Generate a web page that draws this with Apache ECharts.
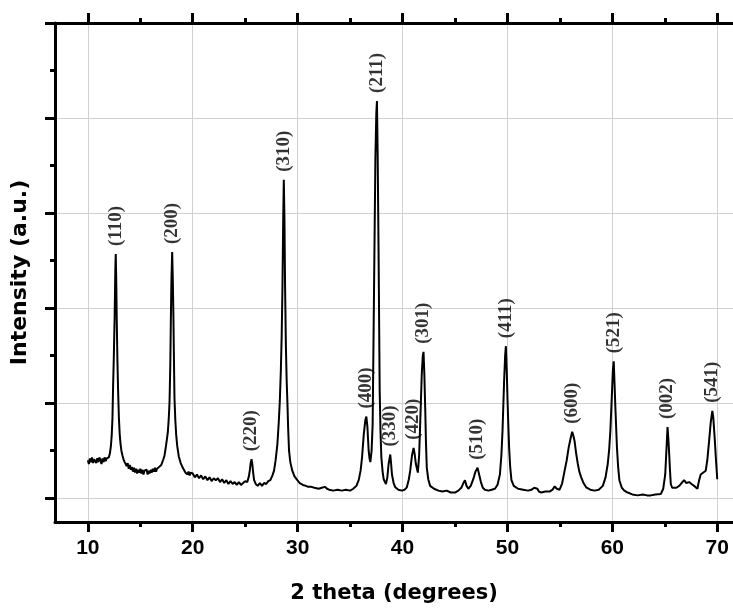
<!DOCTYPE html>
<html>
<head>
<meta charset="utf-8">
<script src="https://cdn.jsdelivr.net/npm/echarts@6/dist/echarts.min.js"></script>
<style>html,body{margin:0;padding:0;background:#fff}#chart{width:733px;height:609px}</style>
</head>
<body>
<div id="chart"></div>
<script>
// ---- data ----
const twoTheta = [
10.0,10.1,10.2,10.3,10.4,10.5,10.6,10.7,10.8,10.9,11.0,11.1,11.2,11.3,11.4,11.5,11.6,11.7,11.8,11.9,
12.0,12.1,12.2,12.28,12.35,12.41,12.48,12.56,12.62,12.66,12.70,12.76,12.82,12.88,12.96,13.04,13.12,13.2,13.3,13.4,13.51,
13.6,13.7,13.8,13.9,14.0,14.1,14.2,14.3,14.4,14.5,14.6,14.7,14.8,14.9,15.0,15.1,15.2,15.3,15.4,15.5,15.6,15.7,15.8,15.9,
16.0,16.1,16.2,16.3,16.4,16.5,16.6,16.7,16.8,16.9,17.0,17.1,17.2,17.31,17.45,17.55,17.63,17.72,17.79,17.86,17.91,17.97,
18.04,18.1,18.16,18.21,18.26,18.34,18.42,18.52,18.67,18.85,19.05,19.2,19.3,19.4,19.5,19.6,19.7,19.8,19.9,20.0,
20.2,20.4,20.6,20.8,21.0,21.2,21.4,21.6,21.8,22.0,22.2,22.4,22.6,22.8,23.0,23.2,23.4,23.6,23.8,24.0,24.2,24.4,24.6,24.8,
25.0,25.2,25.35,25.45,25.52,25.6,25.68,25.76,25.85,26.0,26.2,26.4,26.6,26.8,27.0,27.2,27.4,27.6,27.75,27.9,
28.07,28.2,28.3,28.4,28.48,28.55,28.62,28.68,28.74,28.8,28.88,28.95,29.02,29.1,29.18,29.3,29.49,29.7,29.97,
30.2,30.5,30.8,31.0,31.3,31.6,32.0,32.3,32.6,32.8,33.0,33.4,33.8,34.2,34.6,35.0,35.3,35.6,35.82,36.0,36.14,36.3,36.45,
36.55,36.65,36.77,36.85,36.93,37.05,37.15,37.28,37.41,37.5,37.56,37.63,37.72,37.82,37.9,37.98,38.1,38.2,38.42,38.55,
38.67,38.83,38.92,38.99,39.15,39.31,39.6,39.94,40.2,40.41,40.6,40.73,40.9,41.05,41.15,41.27,41.46,41.58,41.68,41.83,
41.93,42.0,42.08,42.16,42.23,42.31,42.45,42.63,43.0,43.42,43.8,44.2,44.6,45.0,45.32,45.6,45.8,45.95,46.1,46.27,46.5,
46.74,46.95,47.15,47.3,47.47,47.65,47.85,48.2,48.5,48.8,49.05,49.28,49.42,49.53,49.68,49.78,49.85,49.93,50.0,50.08,
50.16,50.26,50.38,50.6,51.01,51.5,51.96,52.3,52.55,52.69,52.85,53.0,53.23,53.6,54.02,54.3,54.5,54.7,54.97,55.2,55.45,
55.65,55.83,56.0,56.17,56.28,56.4,56.55,56.71,56.85,57.03,57.25,57.5,57.9,58.3,58.7,59.09,59.35,59.56,59.7,59.81,59.97,
60.05,60.13,60.21,60.29,60.36,60.44,60.55,60.67,60.9,61.14,61.46,61.9,62.41,62.9,63.3,63.67,64.1,64.62,64.85,65.04,
65.15,65.26,65.34,65.42,65.5,65.57,65.7,65.89,66.1,66.37,66.6,66.84,67.05,67.32,67.55,67.79,68.11,68.25,68.42,68.6,
68.9,69.05,69.22,69.38,69.53,69.62,69.75,69.88,70.0
];
const intensity = [
0.40,0.36,0.42,0.38,0.43,0.37,0.41,0.43,0.37,0.42,0.38,0.43,0.40,0.36,0.42,0.38,0.43,0.39,0.42,0.44,
0.43,0.47,0.55,0.67,0.85,1.19,1.50,1.95,2.40,2.57,2.35,1.85,1.45,1.15,0.85,0.67,0.57,0.50,0.45,0.41,0.38,
0.38,0.34,0.37,0.31,0.35,0.30,0.33,0.28,0.32,0.27,0.31,0.26,0.30,0.27,0.31,0.26,0.30,0.25,0.29,0.27,0.30,0.25,0.29,0.26,
0.30,0.27,0.31,0.28,0.32,0.28,0.31,0.29,0.33,0.31,0.35,0.38,0.41,0.45,0.55,0.63,0.70,0.85,1.02,1.40,1.85,2.30,
2.59,2.30,1.89,1.45,1.05,0.82,0.67,0.55,0.44,0.37,0.32,0.31,0.27,0.29,0.25,0.28,0.24,0.27,0.25,0.26,
0.22,0.25,0.21,0.24,0.20,0.23,0.19,0.22,0.18,0.21,0.19,0.21,0.17,0.20,0.16,0.19,0.15,0.18,0.15,0.17,0.14,0.17,0.14,0.16,
0.18,0.17,0.23,0.30,0.37,0.41,0.36,0.27,0.19,0.15,0.13,0.16,0.13,0.16,0.15,0.18,0.19,0.24,0.29,0.40,
0.57,0.80,1.02,1.35,1.72,2.20,2.90,3.35,2.95,2.25,1.60,1.25,1.02,0.72,0.50,0.38,0.29,0.23,0.19,
0.16,0.14,0.13,0.12,0.12,0.11,0.10,0.11,0.12,0.10,0.09,0.08,0.09,0.08,0.09,0.08,0.10,0.13,0.19,0.29,0.43,0.67,0.82,
0.86,0.75,0.50,0.42,0.38,0.50,0.78,2.17,3.57,4.05,4.18,3.60,2.52,1.13,0.70,0.43,0.28,0.20,0.15,0.22,
0.36,0.46,0.35,0.25,0.16,0.115,0.09,0.08,0.09,0.115,0.20,0.29,0.45,0.53,0.47,0.36,0.27,0.45,0.78,1.30,
1.50,1.54,1.30,0.95,0.60,0.32,0.20,0.13,0.10,0.08,0.07,0.08,0.06,0.06,0.08,0.11,0.16,0.19,0.13,0.10,0.13,
0.20,0.28,0.32,0.25,0.17,0.11,0.09,0.08,0.09,0.10,0.14,0.25,0.45,0.71,1.23,1.50,1.60,1.35,1.06,0.78,
0.53,0.33,0.19,0.13,0.10,0.09,0.08,0.09,0.11,0.125,0.10,0.07,0.06,0.07,0.07,0.09,0.125,0.10,0.09,0.15,0.29,
0.40,0.53,0.62,0.70,0.66,0.60,0.47,0.36,0.28,0.22,0.16,0.115,0.09,0.08,0.09,0.13,0.22,0.36,0.52,0.71,1.13,
1.35,1.44,1.20,0.95,0.75,0.53,0.33,0.19,0.11,0.08,0.06,0.04,0.03,0.04,0.03,0.03,0.04,0.045,0.10,0.25,
0.50,0.75,0.62,0.46,0.28,0.15,0.11,0.10,0.11,0.13,0.16,0.19,0.16,0.17,0.15,0.13,0.10,0.18,0.25,0.27,
0.29,0.40,0.60,0.80,0.92,0.85,0.64,0.40,0.20
];
const hklLabels = ['(110)','(200)','(220)','(310)','(400)','(211)','(330)','(420)','(301)','(510)','(411)','(600)','(521)','(002)','(541)'];
const peakPos = [12.66,18.04,25.6,28.68,36.55,37.56,38.83,41.05,42.0,47.15,49.85,56.17,60.13,65.26,69.53];
const peakHeight = [2.57,2.59,0.41,3.35,0.86,4.18,0.46,0.53,1.54,0.32,1.60,0.70,1.44,0.75,0.92];
const xTicks = [10,20,30,40,50,60,70];
const yTicks = [0,1,2,3,4,5];
const xTitle = '2 theta (degrees)';
const yTitle = 'Intensity (a.u.)';

const lineData = twoTheta.map((x, i) => [x, intensity[i]]);
const peakData = peakPos.map((x, i) => [x, peakHeight[i]]);

const chart = echarts.init(document.getElementById('chart'), null, {renderer: 'canvas'});
const axisBlack = {color: '#000', width: 3};
const tickStyle = {color: '#000', width: 3};
const gridColor = '#d0d0d0';
const sansBold = {fontFamily: 'DejaVu Sans', fontWeight: 'bold', color: '#000'};

chart.setOption({
  animation: false,
  backgroundColor: '#ffffff',
  grid: {left: 55, top: 23, right: -3, bottom: 84, containLabel: false},
  xAxis: [{
    type: 'value', min: 6.87, max: 71.5, position: 'bottom',
    axisLine: {show: true, onZero: false, lineStyle: axisBlack},
    axisTick: {show: true, customValues: xTicks, length: 10, lineStyle: tickStyle},
    minorTick: {show: true, splitNumber: 2, length: 5, lineStyle: tickStyle},
    axisLabel: {show: true, customValues: xTicks, margin: 16, fontSize: 21, fontWeight: 'bold', fontFamily: 'Liberation Sans, Arial', color: '#000'},
    splitLine: {show: true, lineStyle: {color: gridColor, width: 1}},
    name: xTitle, nameLocation: 'middle', nameGap: 61,
    nameTextStyle: Object.assign({fontSize: 21}, sansBold)
  }, {
    type: 'value', min: 6.87, max: 71.5, position: 'top',
    axisLine: {show: true, onZero: false, lineStyle: axisBlack},
    axisTick: {show: true, customValues: xTicks, length: 10, lineStyle: tickStyle},
    minorTick: {show: true, splitNumber: 2, length: 5, lineStyle: tickStyle},
    axisLabel: {show: false},
    splitLine: {show: false}
  }],
  yAxis: [{
    type: 'value', min: -0.25, max: 5, position: 'left',
    axisLine: {show: true, onZero: false, lineStyle: axisBlack},
    axisTick: {show: true, customValues: yTicks, length: 10, lineStyle: tickStyle},
    minorTick: {show: true, splitNumber: 2, length: 5, lineStyle: tickStyle},
    axisLabel: {show: false, customValues: yTicks},
    splitLine: {show: true, lineStyle: {color: gridColor, width: 1}},
    name: yTitle, nameLocation: 'middle', nameGap: 24,
    nameTextStyle: Object.assign({fontSize: 22}, sansBold)
  }],
  series: [{
    type: 'line', data: lineData, showSymbol: false, symbol: 'none',
    lineStyle: {color: '#000', width: 2}, z: 3
  }, {
    type: 'scatter', data: peakData, symbolSize: 0, silent: true, z: 4,
    label: {
      show: true, position: 'top', distance: 8, rotate: 90,
      align: 'left', verticalAlign: 'middle',
      formatter: p => hklLabels[p.dataIndex],
      fontFamily: 'Liberation Serif, Times New Roman, serif', fontWeight: 'bold', fontSize: 19, color: '#000'
    }
  }]
});
</script>
</body>
</html>
